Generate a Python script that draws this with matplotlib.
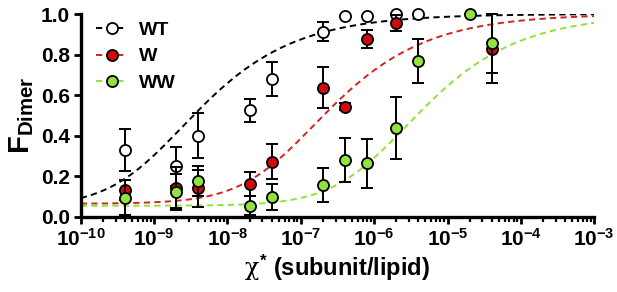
import numpy as np
import matplotlib
matplotlib.use("Agg")
import matplotlib.pyplot as plt
from matplotlib.ticker import LogLocator, NullFormatter

plt.rcParams['font.family'] = ['Liberation Sans', 'DejaVu Sans']
plt.rcParams['font.weight'] = 'bold'
plt.rcParams['axes.labelweight'] = 'bold'
plt.rcParams['mathtext.fontset'] = 'custom'
plt.rcParams['mathtext.rm'] = 'Liberation Sans:bold'
plt.rcParams['mathtext.bf'] = 'Liberation Sans:bold'
plt.rcParams['mathtext.it'] = 'DejaVu Serif:normal'

# mole fraction (subunit/lipid)
x_wt = [4e-10, 2e-9, 4e-9, 2e-8, 4e-8, 2e-7, 4e-7, 8e-7, 2e-6, 4e-6]
y_wt = [0.33, 0.25, 0.40, 0.525, 0.68, 0.913, 0.99, 0.99, 1.0, 1.0]
e_wt = [0.105, 0.097, 0.11, 0.055, 0.083, 0.047, 0, 0, 0, 0]

x_w = [4e-10, 2e-9, 4e-9, 2e-8, 4e-8, 2e-7, 4e-7, 8e-7, 2e-6, 4e-5]
y_w = [0.133, 0.145, 0.141, 0.161, 0.272, 0.637, 0.543, 0.877, 0.954, 0.83]
e_w = [0.05, 0.1, 0.09, 0.06, 0.087, 0.1, 0.018, 0.042, 0.04, 0.17]

x_ww = [4e-10, 2e-9, 4e-9, 2e-8, 4e-8, 2e-7, 4e-7, 8e-7, 2e-6, 4e-6, 2e-5, 4e-5]
y_ww = [0.095, 0.122, 0.177, 0.056, 0.098, 0.158, 0.281, 0.264, 0.437, 0.768, 1.0, 0.855]
e_ww = [0.085, 0.09, 0.075, 0.045, 0.065, 0.085, 0.107, 0.12, 0.153, 0.11, 0, 0.145]

# fit parameters (Kd, baseline)
fit_wt = (4e-9, 0.05)
fit_w = (2.5e-7, 0.065)
fit_ww = (4.5e-6, 0.055)

xtick_pos = [1e-10, 1e-9, 1e-8, 1e-7, 1e-6, 1e-5, 1e-4, 1e-3]
xtick_labels = ['$10^{-10}$', '$10^{-9}$', '$10^{-8}$', '$10^{-7}$',
                '$10^{-6}$', '$10^{-5}$', '$10^{-4}$', '$10^{-3}$']
ytick_pos = [0.0, 0.2, 0.4, 0.6, 0.8, 1.0]

red = '#d20a0a'
green = '#93e33f'


def dimer_frac(x, kd, base):
    m = kd * (np.sqrt(1 + 8 * x / kd) - 1) / 4
    return base + (1 - base) * (1 - m / x)


fig = plt.figure(figsize=(6.17, 2.92), dpi=100)
ax = fig.add_axes([0.131, 0.257, 0.832, 0.695])

xs = np.logspace(-10, -3, 400)
dash = (0, (3.2, 2.2))
ax.plot(xs, dimer_frac(xs, *fit_wt), color='black', lw=1.4, ls=dash, zorder=2)
ax.plot(xs, dimer_frac(xs, *fit_w), color='#d42222', lw=1.4, ls=dash, zorder=2)
ax.plot(xs, dimer_frac(xs, *fit_ww), color='#8fe23c', lw=1.4, ls=dash, zorder=2)

series = [
    (x_wt, y_wt, e_wt, 'white', 'black', 'WT'),
    (x_w, y_w, e_w, red, '#d42222', 'W'),
    (x_ww, y_ww, e_ww, green, '#8fe23c', 'WW'),
]
for i, (xv, yv, ev, fc, lc, lab) in enumerate(series):
    ax.errorbar(xv, yv, yerr=ev, fmt='none', ecolor='black', elinewidth=1.4,
                capsize=4.5, capthick=1.4, zorder=3 + 2 * i, clip_on=False)
    ax.plot(xv, yv, 'o', ms=8, mfc=fc, mec='black', mew=1.3,
            zorder=4 + 2 * i, clip_on=False)
    # legend proxy
    ax.plot([], [], ls=dash, color=lc, lw=1.4, marker='o', ms=8, mfc=fc,
            mec='black', mew=1.3, label=lab)

ax.set_xscale('log')
ax.set_xlim(1e-10, 1e-3)
ax.set_ylim(0, 1.0)
ax.set_xticks(xtick_pos)
ax.set_xticklabels(xtick_labels)
ax.xaxis.set_minor_locator(LogLocator(base=10, subs=np.arange(2, 10), numticks=100))
ax.xaxis.set_minor_formatter(NullFormatter())
ax.set_yticks(ytick_pos)
ax.set_yticklabels(['%.1f' % v for v in ytick_pos])

for s in ['top', 'right']:
    ax.spines[s].set_visible(False)
for s in ['left', 'bottom']:
    ax.spines[s].set_linewidth(2.4)

ax.tick_params(which='major', length=5, width=2.0, labelsize=15, pad=3)
ax.tick_params(which='minor', length=3.5, width=1.6)

ax.set_xlabel(r'$\chi^{*}$ (subunit/lipid)', fontsize=17, labelpad=2)
ax.set_ylabel(r'F$_{\mathrm{Dimer}}$', fontsize=21, labelpad=3)

ax.legend(loc='upper left', bbox_to_anchor=(0.0, 1.04), frameon=False,
          fontsize=14, handlelength=1.6, handletextpad=0.6, labelspacing=0.45,
          borderaxespad=0.4)

fig.savefig('out.png', dpi=100)
